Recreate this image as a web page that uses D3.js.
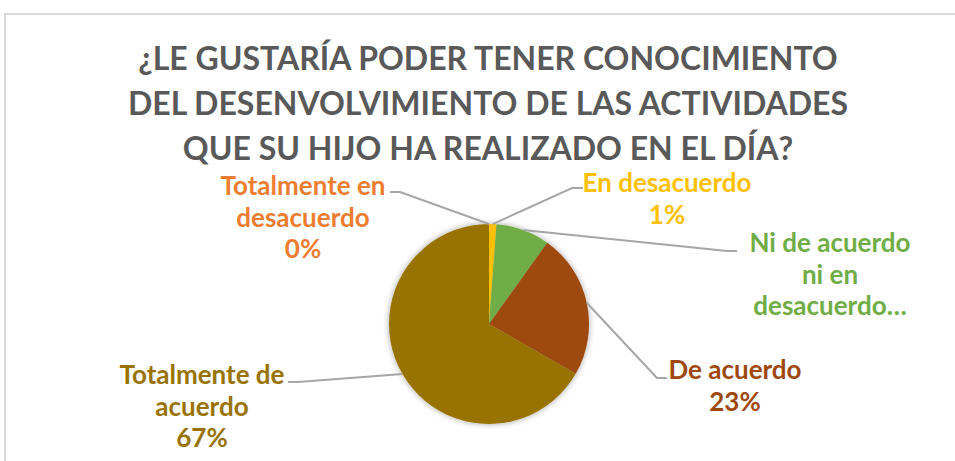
<!DOCTYPE html>
<html>
<head>
<meta charset="utf-8">
<script src="https://cdn.jsdelivr.net/npm/d3@7"></script>
<style>
  body { margin: 0; background: #fff; }
  svg { display: block; }
</style>
</head>
<body>
<div class="container"></div>
<script>
// ---- data ----
var categories = ["Totalmente en desacuerdo", "En desacuerdo", "Ni de acuerdo ni en desacuerdo", "De acuerdo", "Totalmente de acuerdo"];
var values = [0, 1.2, 8.7, 23.4, 66.7];
var labelLines = [["Totalmente en", "desacuerdo"], ["En desacuerdo"], ["Ni de acuerdo", "ni en", "desacuerdo…"], ["De acuerdo"], ["Totalmente de", "acuerdo"]];
var showPercent = [true, true, false, true, true];
var titleLines = ["¿LE GUSTARÍA PODER TENER CONOCIMIENTO", "DEL DESENVOLVIMIENTO DE LAS ACTIVIDADES", "QUE SU HIJO HA REALIZADO EN EL DÍA?"];

// ---- layout / style ----
var w = 955, h = 461;
var colors = ["#ED7D31", "#FFC000", "#70AD47", "#9E480E", "#997300"];
var cx = 489, cy = 324, r = 100;
var font = "Lato, 'Open Sans', sans-serif";
// label centre x, first line centre y, leader stub [outer x, inner x, y]
var labelPos = [
  {x: 303, y: 186, stub: [390, 400, 192]},
  {x: 667, y: 183, stub: [583, 572, 188]},
  {x: 830, y: 243, stub: [737, 727, 251]},
  {x: 735, y: 370, stub: [667, 657, 378]},
  {x: 202, y: 375, stub: [288, 298, 382]}
];
var lineH = 31.5;

var svg = d3.select(".container").append("svg")
  .attr("width", w)
  .attr("height", h);

var defs = svg.append("defs");
var f = defs.append("filter").attr("id", "shadow")
  .attr("x", "-20%").attr("y", "-20%").attr("width", "140%").attr("height", "140%");
f.append("feDropShadow")
  .attr("dx", 0).attr("dy", 0)
  .attr("stdDeviation", 3)
  .attr("flood-color", "#000")
  .attr("flood-opacity", 0.35);

// chart frame
svg.append("rect")
  .attr("x", 5).attr("y", 14)
  .attr("width", w + 20).attr("height", h + 20)
  .attr("fill", "none")
  .attr("stroke", "#D9D9D9")
  .attr("stroke-width", 2);

/* ===== TITLE ===== */
svg.append("g").selectAll("text")
  .data(titleLines)
  .enter().append("text")
  .attr("x", 488)
  .attr("y", function(d, i) { return 70 + i * 45; })
  .attr("text-anchor", "middle")
  .style("font-family", font)
  .style("font-weight", "bold")
  .style("font-size", "32px")
  .style("fill", "#595959")
  .text(function(d) { return d; });

/* ===== PIE ===== */
var total = d3.sum(values);
var pie = d3.pie().sort(null).value(function(d) { return d; });
var arcs = pie(values);
var arc = d3.arc().innerRadius(0).outerRadius(r);

var g = svg.append("g").attr("transform", "translate(" + cx + "," + cy + ")");

g.append("g")
  .attr("filter", "url(#shadow)")
  .selectAll("path")
  .data(arcs)
  .enter().append("path")
  .attr("d", arc)
  .attr("fill", function(d, i) { return colors[i]; });

/* ===== LEADER LINES ===== */
arcs.forEach(function(a, i) {
  var mid = (a.startAngle + a.endAngle) / 2;
  var px = cx + r * Math.sin(mid);
  var py = cy - r * Math.cos(mid);
  var s = labelPos[i].stub;
  svg.append("polyline")
    .attr("points", [[s[0], s[2]], [s[1], s[2]], [px, py]].map(function(p) { return p.join(","); }).join(" "))
    .attr("fill", "none")
    .attr("stroke", "#A6A6A6")
    .attr("stroke-width", 2);
});

/* ===== LABELS ===== */
arcs.forEach(function(a, i) {
  var lines = labelLines[i].slice();
  if (showPercent[i]) lines.push(Math.round(values[i] / total * 100) + "%");
  var t = svg.append("text")
    .attr("text-anchor", "middle")
    .style("font-family", font)
    .style("font-weight", "bold")
    .style("font-size", "26px")
    .style("fill", colors[i]);
  lines.forEach(function(l, j) {
    t.append("tspan")
      .attr("x", labelPos[i].x)
      .attr("y", labelPos[i].y + j * lineH)
      .attr("dy", "0.35em")
      .text(l);
  });
});
</script>
</body>
</html>
